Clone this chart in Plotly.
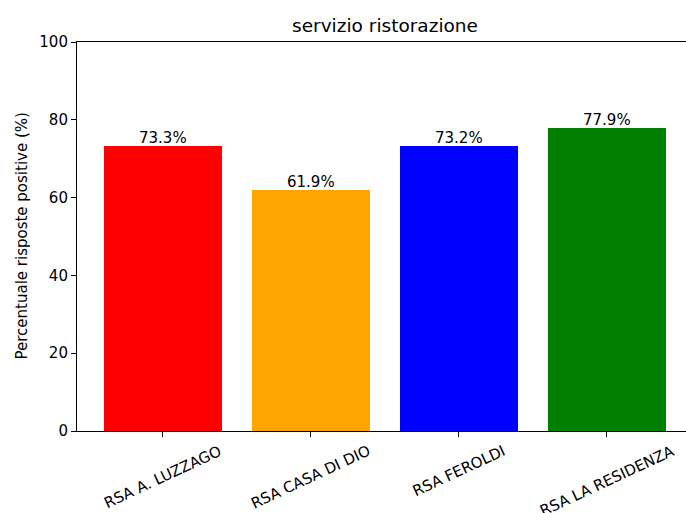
import plotly.graph_objects as go

categories = ["RSA A. LUZZAGO", "RSA CASA DI DIO", "RSA FEROLDI", "RSA LA RESIDENZA"]
values = [73.3, 61.9, 73.2, 77.9]
colors = ["#ff0000", "#ffa500", "#0000ff", "#008000"]
y_ticks = [0, 20, 40, 60, 80, 100]
title = "servizio ristorazione"
y_title = "Percentuale risposte positive (%)"

FONT = "DejaVu Sans"
xpos = list(range(len(categories)))

W, H = 686, 513
ML, MT, MB = 77, 42, 82

fig = go.Figure()
fig.add_trace(go.Bar(
    x=xpos, y=values, width=0.8,
    marker=dict(color=colors, line=dict(width=0)),
    hoverinfo="skip",
))

annotations = []
for i, v in enumerate(values):
    annotations.append(dict(
        x=i, y=v, xref="x", yref="y", text=f"{v:.1f}%",
        showarrow=False, yanchor="bottom", xanchor="center",
        font=dict(family=FONT, size=15, color="#000000"), yshift=-3,
    ))
for i, c in enumerate(categories):
    annotations.append(dict(
        x=i, y=0, xref="x", yref="paper", text=c,
        showarrow=False, yanchor="top", xanchor="center",
        textangle=-25, yshift=-8,
        font=dict(family=FONT, size=15, color="#000000"),
    ))
annotations.append(dict(
    x=(21 - ML) / (W - ML), y=0.5, xref="paper", yref="paper", text=y_title,
    showarrow=False, textangle=-90, xanchor="center", yanchor="middle",
    font=dict(family=FONT, size=15, color="#000000"),
))

fig.update_layout(
    width=W, height=H,
    margin=dict(l=ML, r=0, t=MT, b=MB, pad=0),
    paper_bgcolor="white", plot_bgcolor="white",
    showlegend=False,
    title=dict(text=title, x=385 / W, xanchor="center",
               y=1 - 26 / H, yanchor="middle",
               font=dict(family=FONT, size=18.5, color="#000000")),
    annotations=annotations,
    bargap=0,
)
fig.update_xaxes(
    range=[-0.58, 3.534], tickvals=xpos, ticktext=["" for _ in categories],
    showgrid=False, zeroline=False, showline=True, linecolor="black", linewidth=1.1,
    mirror=True, ticks="outside", ticklen=5, tickcolor="black", tickwidth=1.1,
)
fig.update_yaxes(
    range=[0, 100], tickvals=y_ticks, ticktext=[str(t) for t in y_ticks],
    showgrid=False, zeroline=False, showline=True, linecolor="black", linewidth=1.1,
    mirror=True, ticks="outside", ticklen=5, tickcolor="black", tickwidth=1.1,
    tickfont=dict(family=FONT, size=15, color="#000000"),
)

fig.write_html(
    "out.html",
    config={"displayModeBar": False},
    post_script="document.body.style.margin='0';document.body.style.overflow='hidden';",
)
